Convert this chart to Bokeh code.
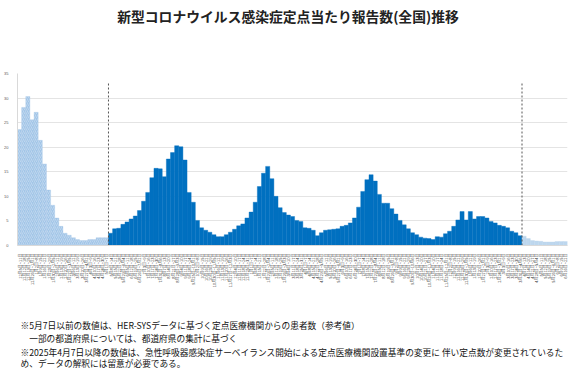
import datetime
import math
from bokeh.plotting import figure
from bokeh.layouts import column
from bokeh.models import Range1d, FixedTicker
from bokeh.core.properties import value
from bokeh.embed import file_html
from bokeh.resources import INLINE

# ---- data ----
hersys_values = [23.6, 28.1, 30.3, 25.6, 27.1, 21.4, 16.6, 11.3, 8.2, 5.6, 3.9,
                 2.5, 2.1, 1.6, 1.2, 1.0, 1.0, 1.2, 1.2, 1.6, 1.6, 1.6]
sentinel_values = [2.5, 3.4, 3.5, 4.3, 4.8, 5.4, 6.0, 7.1, 9.0, 10.8,
                   13.8, 15.7, 15.6, 14.0, 17.6, 18.9, 20.3, 20.1, 17.4, 10.8,
                   8.8, 5.1, 3.6, 3.1, 2.7, 2.2, 1.8, 1.8, 2.2, 2.7,
                   3.3, 4.0, 4.4, 5.6, 6.8, 8.8, 12.0, 14.7, 16.1, 13.6,
                   10.0, 7.7, 6.7, 6.2, 5.9, 5.1, 4.9, 3.6, 3.5, 3.1,
                   2.0, 2.6, 3.1, 3.2, 3.3, 3.4, 3.9, 4.1, 4.6, 5.6,
                   7.8, 11.0, 13.4, 14.4, 13.1, 10.4, 8.6, 8.6, 7.5, 6.4,
                   5.1, 4.2, 3.4, 2.6, 2.2, 1.7, 1.5, 1.4, 1.2, 1.8,
                   1.7, 2.4, 2.9, 3.9, 5.2, 6.9, 5.2, 6.9, 5.4, 5.9,
                   5.9, 5.6, 4.9, 4.6, 4.1, 3.9, 3.6, 2.9, 2.6, 2.0]
ari_values = [1.9, 1.4, 1.0, 0.9, 0.85, 0.7, 0.7, 0.7, 0.8, 0.8, 0.8]

y_ticks = [0, 5, 10, 15, 20, 25, 30, 35]

title_text = "新型コロナウイルス感染症定点当たり報告数(全国)推移"
notes = [
    "※5月7日以前の数値は、HER-SYSデータに基づく定点医療機関からの患者数（参考値）",
    "　一部の都道府県については、都道府県の集計に基づく",
    "※2025年4月7日以降の数値は、急性呼吸器感染症サーベイランス開始による定点医療機関設置基準の変更に 伴い定点数が変更されているた",
    "め、データの解釈には留意が必要である。",
]

first_week = datetime.date(2022, 12, 5)
n_h, n_s, n_a = len(hersys_values), len(sentinel_values), len(ari_values)
n = n_h + n_s + n_a
week_labels = []
for i in range(n):
    d0 = first_week + datetime.timedelta(weeks=i)
    d1 = d0 + datetime.timedelta(days=6)
    if d0.month == d1.month:
        week_labels.append(f"{d0.month}月{d0.day}日~{d1.day}日")
    else:
        week_labels.append(f"{d0.month}月{d0.day}日~{d1.month}月{d1.day}日")

x_h = list(range(0, n_h))
x_s = list(range(n_h, n_h + n_s))
x_a = list(range(n_h + n_s, n))

FONT = "Noto Sans CJK JP"
W = 573
LEFT, RIGHT = 17, 6
HEAD_H, MAIN_H, FOOT_H = 30, 280, 65


def text_panel(height):
    f = figure(width=W, height=height, output_backend="svg", toolbar_location=None,
               x_range=Range1d(LEFT, W - RIGHT), y_range=Range1d(0, height),
               x_axis_type=None, y_axis_type=None,
               min_border_left=LEFT, min_border_right=RIGHT,
               min_border_top=0, min_border_bottom=0)
    f.outline_line_color = None
    f.grid.visible = False
    return f


# ---- header with title ----
head = text_panel(HEAD_H)
head.text(x=[287.5], y=[HEAD_H - 15], text=[title_text],
          text_font=value(FONT), text_font_size=value("13.8px"),
          text_font_style="bold", text_color="#222222",
          text_align="center", text_baseline="middle")

# ---- main chart ----
p = figure(width=W, height=MAIN_H, output_backend="svg", toolbar_location=None,
           x_range=Range1d(-0.5, n - 0.5), y_range=Range1d(0, 35),
           min_border_left=LEFT, min_border_right=RIGHT, min_border_top=43,
           min_border_bottom=MAIN_H - 43 - 172)
p.outline_line_color = None
p.background_fill_color = "white"

p.vbar(x=x_h, top=hersys_values, width=1, bottom=0,
       fill_color="#A3C6E8", line_color="#A3C6E8", line_width=0.3,
       hatch_pattern="/", hatch_color="white", hatch_alpha=0.5,
       hatch_scale=4, hatch_weight=0.6)
p.vbar(x=x_s, top=sentinel_values, width=1, bottom=0,
       fill_color="#0070C0", line_color="#0070C0", line_width=0.4)
p.vbar(x=x_a, top=ari_values, width=1, bottom=0,
       fill_color="#BDD7EE", line_color="#BDD7EE", line_width=0.4)

p.segment(x0=[n_h - 0.5, n_h + n_s - 0.5], y0=[0, 0],
          x1=[n_h - 0.5, n_h + n_s - 0.5], y1=[33, 33],
          line_color="#555555", line_dash="2 2", line_width=1)

p.xgrid.visible = False
p.ygrid.ticker = FixedTicker(ticks=y_ticks)
p.ygrid.grid_line_color = "#E4E4E4"
p.yaxis.ticker = FixedTicker(ticks=y_ticks)
p.yaxis.major_label_text_font_size = "4px"
p.yaxis.major_label_text_color = "#595959"
p.yaxis.major_label_standoff = 3
p.yaxis.axis_line_color = "#D9D9D9"
p.yaxis.major_tick_line_color = None
p.yaxis.minor_tick_line_color = None

p.xaxis.ticker = FixedTicker(ticks=list(range(n)))
p.xaxis.major_label_overrides = {i: lab for i, lab in enumerate(week_labels)}
p.xaxis.major_label_orientation = math.pi / 2
p.xaxis.major_label_text_font_size = "4px"
p.xaxis.major_label_text_font = FONT
p.xaxis.major_label_text_color = "#404040"
p.xaxis.major_label_standoff = 2
p.xaxis.axis_line_color = "#D9D9D9"
p.xaxis.major_tick_line_color = None
p.xaxis.minor_tick_line_color = None

# ---- footer with notes ----
foot = text_panel(FOOT_H)
note_x = [20, 20, 20, 20]
note_y = [15, 28, 41.5, 53]
foot.text(x=note_x, y=[FOOT_H - v for v in note_y], text=notes,
          text_font=value(FONT), text_font_size=value("8.7px"),
          text_color="#111111", text_align="left", text_baseline="middle")

layout = column(head, p, foot, spacing=0)
open("out.html", "w").write(file_html(layout, INLINE))
